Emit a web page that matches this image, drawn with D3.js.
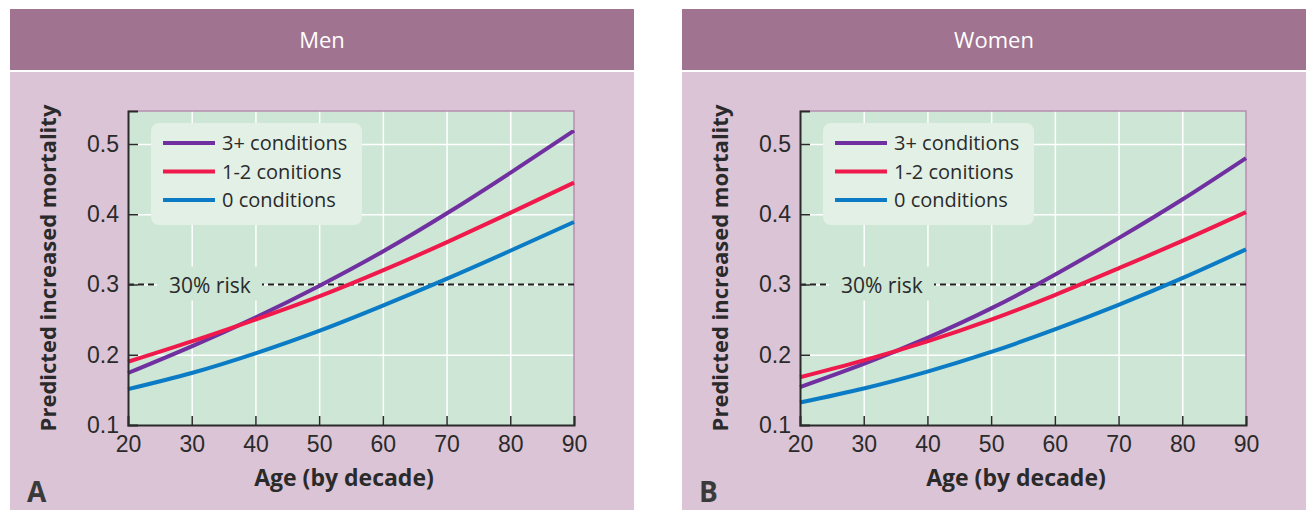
<!DOCTYPE html>
<html>
<head>
<meta charset="utf-8">
<script src="https://cdn.jsdelivr.net/npm/d3@7"></script>
<style>
  body { margin: 0; background: #fff; }
  svg { display: block; font-family: "Open Sans", sans-serif; }
  .tick text { font-size: 23px; fill: #2a2a2a; }
</style>
</head>
<body>
<svg></svg>
<script>
// values
const ages = [20, 30, 40, 50, 60, 70, 80, 90];
const seriesNames = ["3+ conditions", "1-2 conitions", "0 conditions"];
const seriesColors = ["#7030a0", "#ef1a4b", "#0a7bc4"];

const menThreePlus = [0.174, 0.212, 0.253, 0.298, 0.347, 0.401, 0.459, 0.519];
const menOneTwo = [0.190, 0.219, 0.250, 0.283, 0.320, 0.360, 0.402, 0.445];
const menZero = [0.151, 0.174, 0.202, 0.234, 0.270, 0.308, 0.348, 0.389];

const womenThreePlus = [0.154, 0.187, 0.224, 0.266, 0.314, 0.366, 0.421, 0.480];
const womenOneTwo = [0.168, 0.192, 0.219, 0.250, 0.285, 0.323, 0.362, 0.403];
const womenZero = [0.132, 0.152, 0.176, 0.204, 0.236, 0.271, 0.309, 0.350];

const yTicks = [0.1, 0.2, 0.3, 0.4, 0.5];
const riskLevel = 0.3;
const riskLabel = "30% risk";

const panels = [
  { title: "Men", letter: "A", x0: 10, series: [menThreePlus, menOneTwo, menZero] },
  { title: "Women", letter: "B", x0: 682, series: [womenThreePlus, womenOneTwo, womenZero] },
];

const svg = d3.select("svg");
svg.attr("width", 1306);
svg.attr("height", 510);

const panelWidth = 624;
const margin = { left: 118, right: 60, top: 111, bottom: 85 };
const graphWidth = panelWidth - margin.left - margin.right;
const graphHeight = 510 - margin.top - margin.bottom;

const xScale = d3.scaleLinear().domain([20, 90]).range([0, graphWidth]);
const yScale = d3.scaleLinear().domain([0.1, 0.547]).range([graphHeight, 0]);

const line = d3
  .line()
  .x((d) => xScale(d.age))
  .y((d) => yScale(d.value))
  .curve(d3.curveNatural);

const render = (panel) => {
  const p = svg.append("g").attr("transform", `translate(${panel.x0}, 0)`);

  // header + body
  p.append("rect").attr("x", 0).attr("y", 9).attr("width", panelWidth).attr("height", 61).attr("fill", "#a07390");
  p.append("rect").attr("x", 0).attr("y", 72).attr("width", panelWidth).attr("height", 438).attr("fill", "#dbc4d5");
  p.append("text")
    .attr("x", 312)
    .attr("y", 48)
    .attr("text-anchor", "middle")
    .attr("fill", "#fff")
    .attr("font-size", 22)
    .text(panel.title);

  const g = p.append("g").attr("transform", `translate(${margin.left}, ${margin.top})`);

  g.append("rect").attr("width", graphWidth).attr("height", graphHeight).attr("fill", "#cde6d5");

  // white grid
  const gridY = g.append("g").call(
    d3.axisLeft(yScale).tickValues(yTicks.slice(1)).tickSize(-graphWidth).tickFormat("")
  );
  const gridX = g.append("g")
    .attr("transform", `translate(0, ${graphHeight})`)
    .call(d3.axisBottom(xScale).tickValues(ages.slice(1, -1)).tickSize(-graphHeight).tickFormat(""));
  [gridX, gridY].forEach((gr) => {
    gr.selectAll(".domain").remove();
    gr.selectAll("line").attr("stroke", "#fff").attr("stroke-width", 1.5);
  });

  // top/right border
  g.append("path")
    .attr("d", `M0,0H${graphWidth}V${graphHeight}`)
    .attr("fill", "none")
    .attr("stroke", "#b68fae")
    .attr("stroke-width", 1.5);

  // 30% risk reference line
  g.append("line")
    .attr("x1", 0)
    .attr("x2", graphWidth)
    .attr("y1", yScale(riskLevel))
    .attr("y2", yScale(riskLevel))
    .attr("stroke", "#222")
    .attr("stroke-width", 1.8)
    .attr("stroke-dasharray", "6,4");
  g.append("rect")
    .attr("x", 29)
    .attr("y", yScale(riskLevel) - 18)
    .attr("width", 105)
    .attr("height", 34)
    .attr("fill", "#cde6d5");
  g.append("text")
    .attr("x", 41)
    .attr("y", yScale(riskLevel) + 8)
    .attr("font-size", 21)
    .attr("fill", "#2a2a2a")
    .text(riskLabel);

  // curves
  panel.series.forEach((values, i) => {
    const data = ages.map((age, j) => ({ age, value: values[j] }));
    g.append("path")
      .datum(data)
      .attr("d", line)
      .attr("fill", "none")
      .attr("stroke", seriesColors[i])
      .attr("stroke-width", 4);
  });

  // legend
  const legend = g.append("g").attr("transform", "translate(23, 12)");
  legend.append("rect").attr("width", 211).attr("height", 102).attr("rx", 8).attr("fill", "#e3f0e6");
  seriesNames.forEach((name, i) => {
    const ly = 20 + i * 28.5;
    legend.append("line")
      .attr("x1", 12)
      .attr("x2", 64)
      .attr("y1", ly)
      .attr("y2", ly)
      .attr("stroke", seriesColors[i])
      .attr("stroke-width", 4);
    legend.append("text")
      .attr("x", 71)
      .attr("y", ly + 7)
      .attr("font-size", 20)
      .attr("fill", "#2a2a2a")
      .text(name);
  });

  // axes
  const yAxisG = g.append("g").call(
    d3.axisLeft(yScale).tickValues(yTicks).tickSize(-10).tickPadding(9).tickFormat(d3.format(".1f"))
  );
  const xAxisG = g.append("g")
    .attr("transform", `translate(0, ${graphHeight})`)
    .call(d3.axisBottom(xScale).tickValues(ages).tickSize(-9).tickPadding(11));
  [xAxisG, yAxisG].forEach((ax) => {
    ax.select(".domain").attr("stroke", "#2a2a2a").attr("stroke-width", 2);
    ax.selectAll(".tick line").attr("stroke", "#2a2a2a").attr("stroke-width", 1.5);
  });
  xAxisG.select(".tick:first-of-type line").remove();
  yAxisG.select(".tick:first-of-type line").remove();

  g.append("text")
    .attr("x", graphWidth / 2 - 7)
    .attr("y", graphHeight + 61)
    .attr("text-anchor", "middle")
    .attr("font-size", 23)
    .attr("font-weight", "bold")
    .attr("fill", "#2a2a2a")
    .text("Age (by decade)");

  g.append("text")
    .attr("transform", `translate(${38 - margin.left}, ${graphHeight / 2}) rotate(-90)`)
    .attr("text-anchor", "middle")
    .attr("dy", "0.35em")
    .attr("font-size", 22)
    .attr("font-weight", "bold")
    .attr("fill", "#2a2a2a")
    .text("Predicted increased mortality");

  p.append("text")
    .attr("x", 17)
    .attr("y", 502)
    .attr("font-size", 28)
    .attr("font-weight", "bold")
    .attr("fill", "#3a3a3a")
    .text(panel.letter);
};

panels.forEach(render);
</script>
</body>
</html>
